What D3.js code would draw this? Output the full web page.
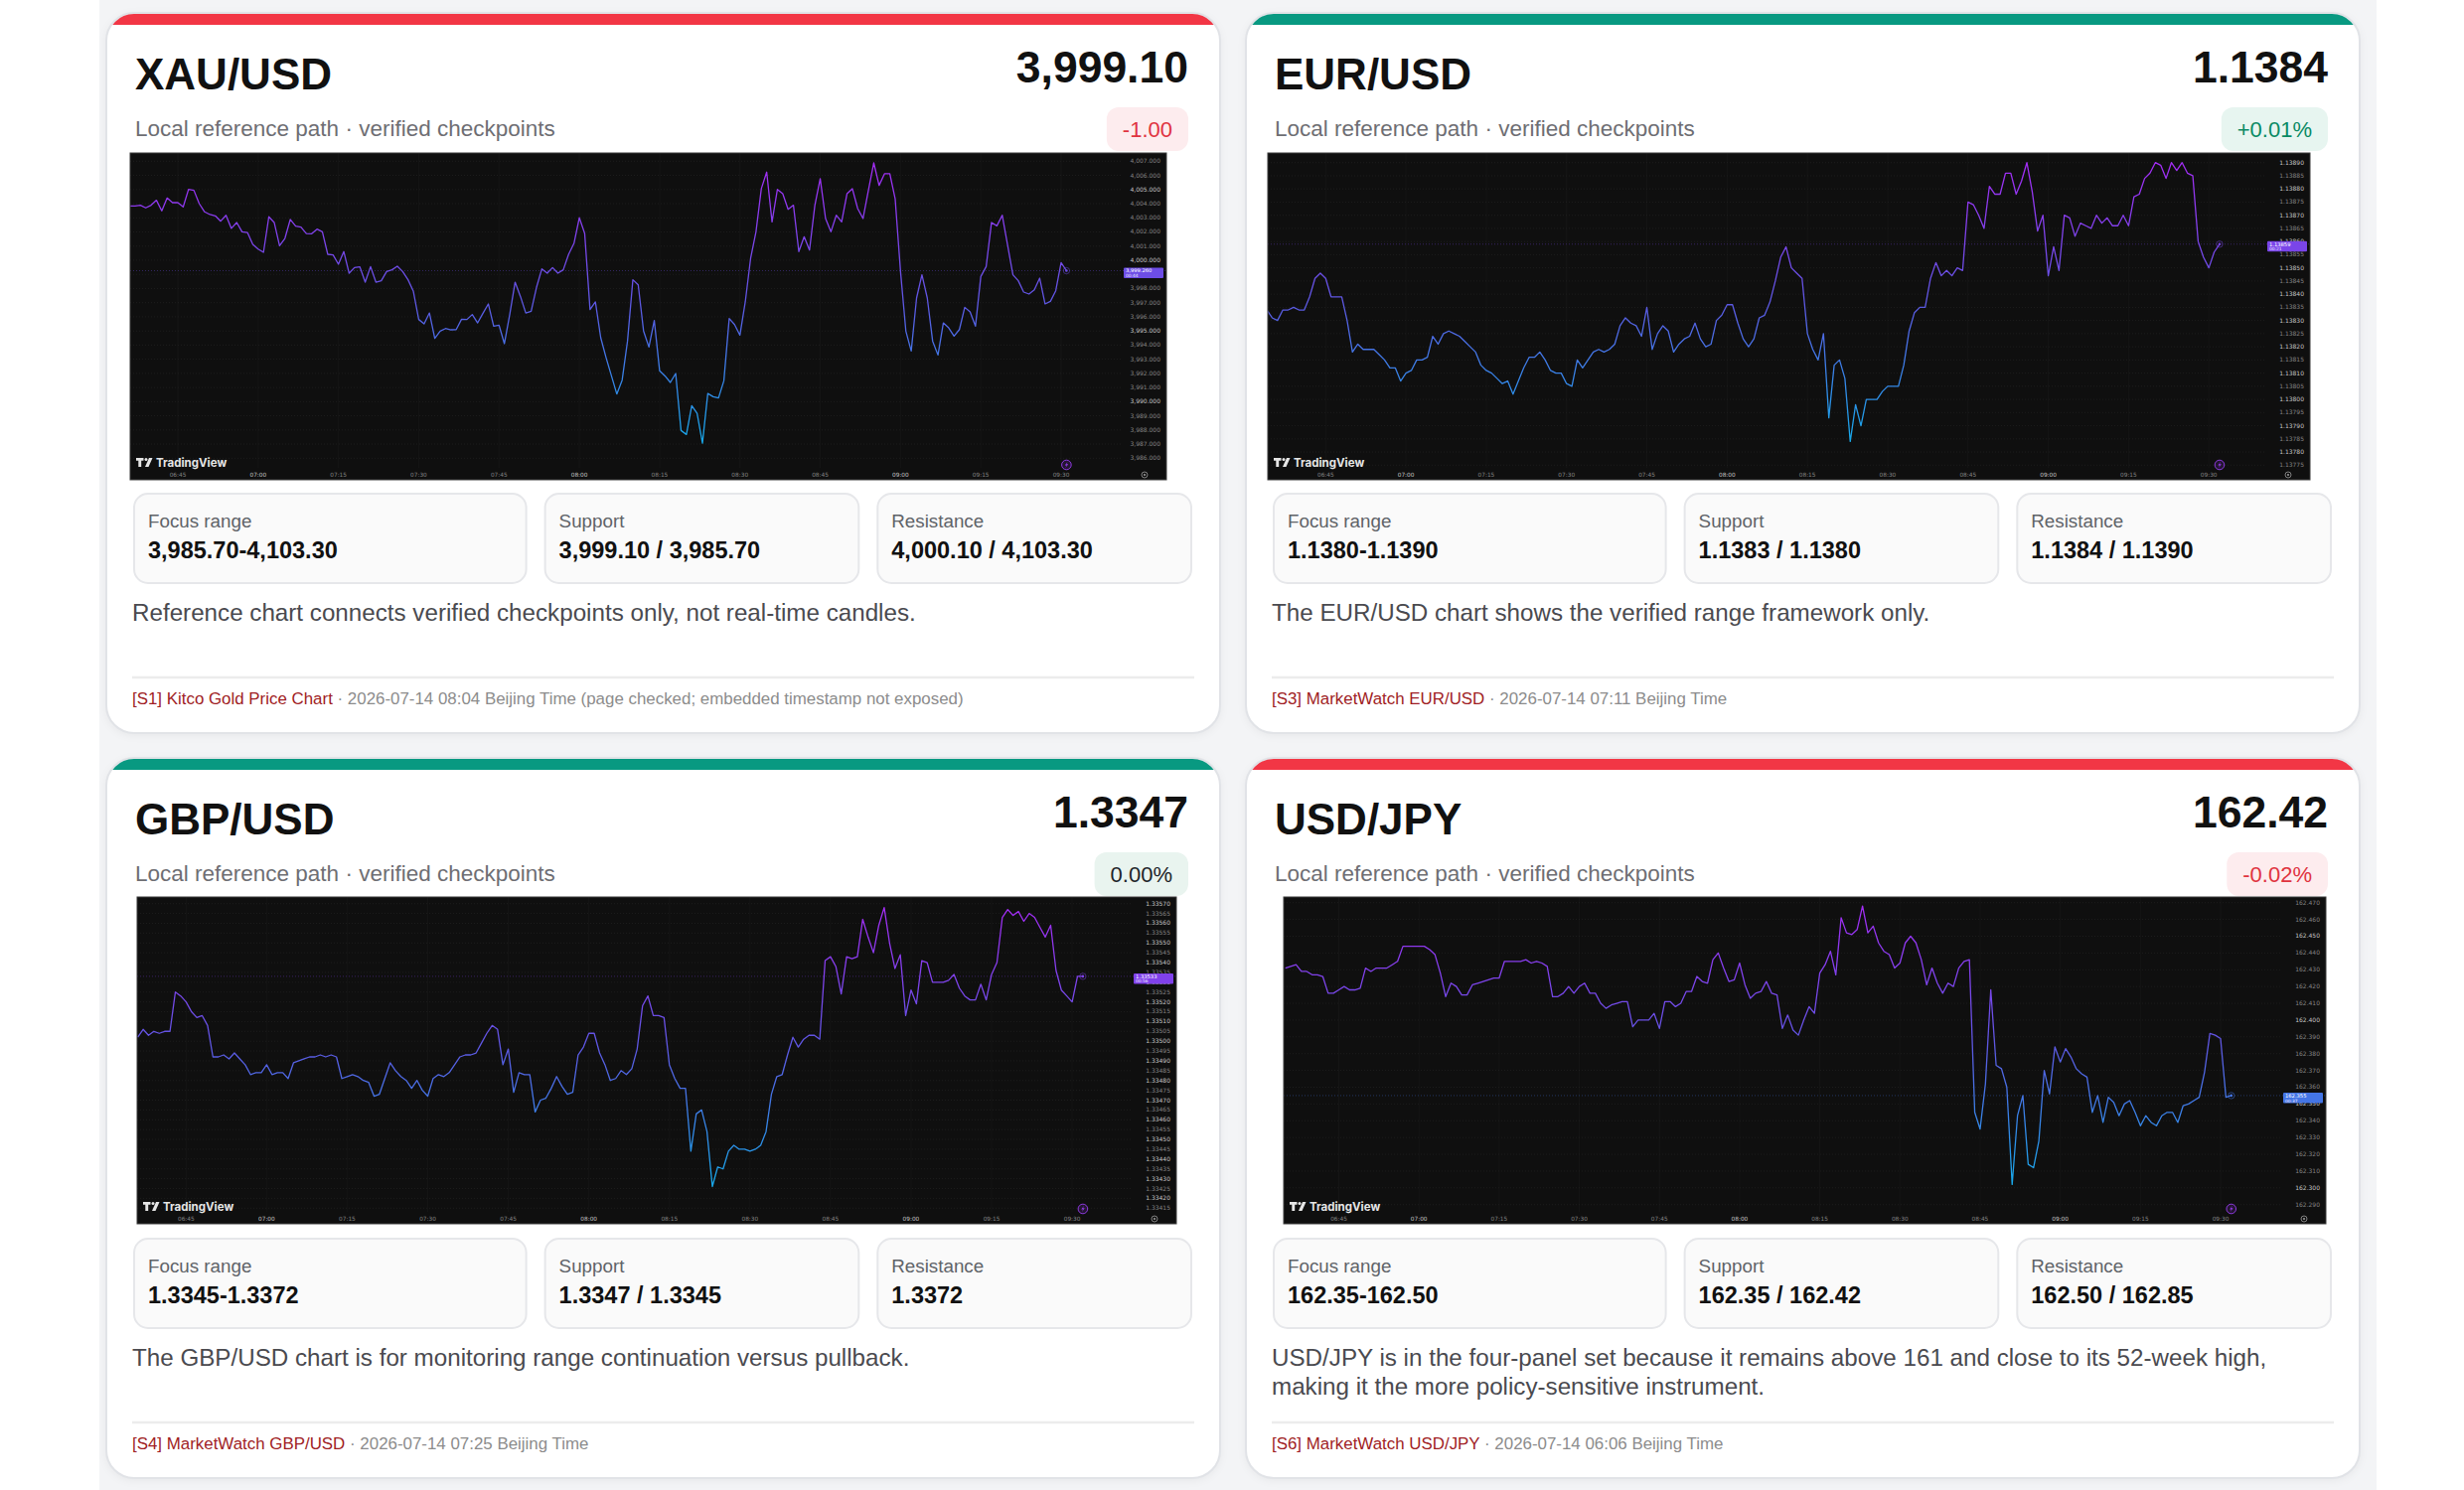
<!DOCTYPE html>
<html>
<head>
<meta charset="utf-8">
<script src="https://cdn.jsdelivr.net/npm/d3@7"></script>
<style>
  html, body { margin: 0; padding: 0; background: #fff; }
  svg { display: block; font-family: "Liberation Sans", Arial, Helvetica, sans-serif; }
</style>
</head>
<body>
<svg id="board" width="2480" height="1500"></svg>
<script>
// ---- panel texts ----
var symbols = ["XAU/USD", "EUR/USD", "GBP/USD", "USD/JPY"];
var prices = ["3,999.10", "1.1384", "1.3347", "162.42"];
var changes = ["-1.00", "+0.01%", "0.00%", "-0.02%"];
var changeDir = ["down", "up", "flat", "down"];
var barDir = ["down", "up", "up", "down"];
var subtitle = "Local reference path \u00b7 verified checkpoints";
var cardLabels = ["Focus range", "Support", "Resistance"];
var focusRange = ["3,985.70-4,103.30", "1.1380-1.1390", "1.3345-1.3372", "162.35-162.50"];
var support = ["3,999.10 / 3,985.70", "1.1383 / 1.1380", "1.3347 / 1.3345", "162.35 / 162.42"];
var resistance = ["4,000.10 / 4,103.30", "1.1384 / 1.1390", "1.3372", "162.50 / 162.85"];
var notes = [
  "Reference chart connects verified checkpoints only, not real-time candles.",
  "The EUR/USD chart shows the verified range framework only.",
  "The GBP/USD chart is for monitoring range continuation versus pullback.",
  "USD/JPY is in the four-panel set because it remains above 161 and close to its 52-week high,\nmaking it the more policy-sensitive instrument."
];
var sourceNames = ["[S1] Kitco Gold Price Chart", "[S3] MarketWatch EUR/USD", "[S4] MarketWatch GBP/USD", "[S6] MarketWatch USD/JPY"];
var sourceTimes = [
  "2026-07-14 08:04 Beijing Time (page checked; embedded timestamp not exposed)",
  "2026-07-14 07:11 Beijing Time",
  "2026-07-14 07:25 Beijing Time",
  "2026-07-14 06:06 Beijing Time"
];

// ---- embedded chart data (1-minute line) ----
var timeTicks = ["06:45", "07:00", "07:15", "07:30", "07:45", "08:00", "08:15", "08:30", "08:45", "09:00", "09:15", "09:30"];
var seriesStart = ["06:36", "06:34", "06:36", "06:35"];
var lastLabels = ["3,999.260", "1.13859", "1.33533", "162.355"];
var countdowns = ["00:44", "00:21", "00:56", "00:37"];
// [lowest tick, highest tick, step, format, major step]
var priceTickSpec = [
  [3986, 4007, 1, ",.3f", 5],
  [1.13775, 1.13890, 0.00005, ".5f", 0.0001],
  [1.33415, 1.33570, 0.00005, ".5f", 0.0001],
  [162.29, 162.47, 0.01, ".3f", 0.05]
];

var xauValues = [
  4003.84, 4003.84, 4003.89, 4003.70, 4003.89, 4004.24, 4003.49, 4004.40, 4004.07, 4004.07,
  4003.77, 4005.01, 4004.94, 4004.00, 4003.42, 4003.23, 4003.14, 4002.76, 4003.18, 4002.25,
  4002.67, 4002.01, 4001.96, 4001.12, 4000.79, 4000.56, 4003.07, 4002.67, 4001.03, 4001.54,
  4002.88, 4002.41, 4002.34, 4001.89, 4001.87, 4002.20, 4002.01, 4000.42, 4000.37, 3999.72,
  4000.61, 3999.08, 3999.48, 3999.53, 3998.45, 3999.55, 3998.45, 3998.55, 3999.20, 3999.32,
  3999.58, 3999.20, 3998.62, 3997.80, 3995.81, 3995.50, 3996.27, 3994.47, 3994.99, 3995.17,
  3995.08, 3995.10, 3995.83, 3995.81, 3996.16, 3995.57, 3996.25, 3996.91, 3995.34, 3995.41,
  3994.10, 3996.16, 3998.45, 3997.44, 3996.27, 3996.39, 3998.08, 3999.39, 3999.08, 3999.48,
  3999.08, 3999.32, 4000.42, 4001.19, 4003.00, 4001.89, 3996.51, 3997.05, 3994.52, 3993.11,
  3991.82, 3990.54, 3991.52, 3994.28, 3998.62, 3998.26, 3994.99, 3993.86, 3995.74, 3992.18,
  3991.82, 3991.36, 3991.99, 3987.96, 3987.68, 3989.72, 3989.18, 3987.07, 3990.58, 3990.35,
  3990.26, 3991.47, 3995.88, 3995.45, 3994.70, 3997.05, 4000.14, 4002.01, 4005.06, 4006.23,
  4002.71, 4005.01, 4004.70, 4003.60, 4003.89, 4000.61, 4001.66, 4000.72, 4003.89, 4005.76,
  4002.95, 4002.01, 4003.18, 4002.71, 4004.70, 4005.06, 4003.65, 4002.95, 4004.94, 4006.88,
  4005.29, 4006.11, 4006.11, 4004.35, 3999.20, 3994.99, 3993.58, 3997.33, 3998.97, 3997.33,
  3994.28, 3993.30, 3995.57, 3995.22, 3994.63, 3995.10, 3996.67, 3996.34, 3995.34, 3998.85,
  3999.55, 4002.67, 4002.43, 4003.18, 4001.07, 3998.97, 3998.55, 3997.75, 3997.61, 3997.91,
  3998.73, 3996.91, 3997.09, 3997.84, 3999.83, 3999.26
];
var eurValues = [
  1.13834, 1.13831, 1.13830, 1.13834, 1.13834, 1.13835, 1.13834, 1.13834, 1.13839, 1.13846,
  1.13848, 1.13846, 1.13839, 1.13839, 1.13839, 1.13830, 1.13818, 1.13821, 1.13819, 1.13819,
  1.13819, 1.13817, 1.13815, 1.13812, 1.13812, 1.13807, 1.13810, 1.13811, 1.13815, 1.13815,
  1.13816, 1.13824, 1.13821, 1.13825, 1.13826, 1.13825, 1.13824, 1.13822, 1.13820, 1.13818,
  1.13813, 1.13811, 1.13810, 1.13808, 1.13806, 1.13807, 1.13802, 1.13807, 1.13812, 1.13816,
  1.13816, 1.13818, 1.13815, 1.13811, 1.13810, 1.13810, 1.13806, 1.13805, 1.13815, 1.13812,
  1.13815, 1.13818, 1.13819, 1.13818, 1.13819, 1.13821, 1.13828, 1.13831, 1.13829, 1.13828,
  1.13824, 1.13835, 1.13819, 1.13825, 1.13828, 1.13826, 1.13818, 1.13821, 1.13823, 1.13824,
  1.13829, 1.13823, 1.13820, 1.13821, 1.13830, 1.13832, 1.13836, 1.13836, 1.13829, 1.13823,
  1.13820, 1.13823, 1.13831, 1.13832, 1.13837, 1.13845, 1.13854, 1.13858, 1.13850, 1.13848,
  1.13846, 1.13825, 1.13819, 1.13815, 1.13825, 1.13793, 1.13813, 1.13815, 1.13808, 1.13784,
  1.13798, 1.13790, 1.13800, 1.13800, 1.13800, 1.13803, 1.13805, 1.13805, 1.13805, 1.13813,
  1.13826, 1.13833, 1.13835, 1.13835, 1.13846, 1.13852, 1.13847, 1.13849, 1.13847, 1.13850,
  1.13849, 1.13875, 1.13874, 1.13870, 1.13865, 1.13881, 1.13878, 1.13878, 1.13886, 1.13886,
  1.13878, 1.13883, 1.13890, 1.13879, 1.13864, 1.13870, 1.13847, 1.13858, 1.13849, 1.13870,
  1.13869, 1.13862, 1.13867, 1.13866, 1.13865, 1.13870, 1.13867, 1.13869, 1.13866, 1.13866,
  1.13870, 1.13866, 1.13877, 1.13878, 1.13884, 1.13886, 1.13890, 1.13889, 1.13884, 1.13890,
  1.13887, 1.13890, 1.13886, 1.13885, 1.13860, 1.13854, 1.13850, 1.13856, 1.13859
];
var gbpValues = [
  1.33502, 1.33506, 1.33503, 1.33505, 1.33504, 1.33505, 1.33505, 1.33525, 1.33523, 1.33520,
  1.33515, 1.33512, 1.33513, 1.33508, 1.33492, 1.33492, 1.33493, 1.33491, 1.33494, 1.33491,
  1.33488, 1.33483, 1.33484, 1.33484, 1.33488, 1.33483, 1.33484, 1.33484, 1.33481, 1.33489,
  1.33490, 1.33491, 1.33492, 1.33492, 1.33493, 1.33492, 1.33493, 1.33492, 1.33481, 1.33482,
  1.33483, 1.33482, 1.33480, 1.33479, 1.33472, 1.33473, 1.33481, 1.33489, 1.33485, 1.33482,
  1.33480, 1.33476, 1.33480, 1.33475, 1.33472, 1.33481, 1.33483, 1.33482, 1.33484, 1.33488,
  1.33492, 1.33493, 1.33493, 1.33494, 1.33499, 1.33504, 1.33508, 1.33506, 1.33488, 1.33496,
  1.33474, 1.33484, 1.33483, 1.33483, 1.33464, 1.33470, 1.33471, 1.33476, 1.33482, 1.33477,
  1.33473, 1.33474, 1.33493, 1.33497, 1.33504, 1.33504, 1.33494, 1.33488, 1.33480, 1.33481,
  1.33485, 1.33483, 1.33486, 1.33496, 1.33518, 1.33523, 1.33513, 1.33513, 1.33512, 1.33488,
  1.33481, 1.33476, 1.33476, 1.33444, 1.33463, 1.33465, 1.33454, 1.33426, 1.33436, 1.33435,
  1.33444, 1.33447, 1.33445, 1.33445, 1.33444, 1.33445, 1.33447, 1.33454, 1.33473, 1.33482,
  1.33483, 1.33493, 1.33502, 1.33497, 1.33501, 1.33503, 1.33503, 1.33501, 1.33541, 1.33543,
  1.33538, 1.33524, 1.33543, 1.33542, 1.33543, 1.33562, 1.33553, 1.33545, 1.33559, 1.33568,
  1.33550, 1.33537, 1.33544, 1.33513, 1.33526, 1.33519, 1.33541, 1.33540, 1.33530, 1.33530,
  1.33530, 1.33531, 1.33534, 1.33527, 1.33523, 1.33521, 1.33521, 1.33529, 1.33521, 1.33534,
  1.33540, 1.33563, 1.33567, 1.33564, 1.33566, 1.33561, 1.33565, 1.33563, 1.33558, 1.33553,
  1.33559, 1.33536, 1.33526, 1.33523, 1.33520, 1.33533, 1.33533
];
var jpyValues = [
  162.431, 162.432, 162.433, 162.429, 162.429, 162.427, 162.427, 162.426, 162.416, 162.416,
  162.418, 162.420, 162.418, 162.418, 162.419, 162.431, 162.429, 162.431, 162.431, 162.431,
  162.433, 162.435, 162.444, 162.444, 162.444, 162.444, 162.444, 162.442, 162.439, 162.428,
  162.414, 162.422, 162.420, 162.415, 162.415, 162.421, 162.422, 162.423, 162.424, 162.425,
  162.425, 162.435, 162.435, 162.435, 162.435, 162.436, 162.434, 162.435, 162.434, 162.432,
  162.414, 162.414, 162.416, 162.420, 162.416, 162.420, 162.422, 162.416, 162.416, 162.410,
  162.407, 162.409, 162.410, 162.411, 162.411, 162.396, 162.400, 162.400, 162.400, 162.404,
  162.395, 162.411, 162.411, 162.408, 162.410, 162.417, 162.417, 162.426, 162.423, 162.422,
  162.436, 162.440, 162.431, 162.423, 162.424, 162.434, 162.421, 162.413, 162.416, 162.417,
  162.423, 162.416, 162.415, 162.395, 162.403, 162.394, 162.391, 162.400, 162.408, 162.404,
  162.428, 162.433, 162.441, 162.427, 162.461, 162.452, 162.451, 162.454, 162.468, 162.452,
  162.456, 162.446, 162.441, 162.439, 162.431, 162.434, 162.446, 162.450, 162.446, 162.436,
  162.421, 162.431, 162.422, 162.416, 162.422, 162.420, 162.431, 162.435, 162.436, 162.345,
  162.335, 162.362, 162.418, 162.373, 162.371, 162.360, 162.302, 162.343, 162.355, 162.314,
  162.312, 162.328, 162.370, 162.356, 162.384, 162.375, 162.383, 162.378, 162.371, 162.368,
  162.366, 162.345, 162.355, 162.339, 162.354, 162.351, 162.343, 162.350, 162.352, 162.345,
  162.337, 162.343, 162.339, 162.337, 162.343, 162.345, 162.345, 162.339, 162.349, 162.350,
  162.352, 162.354, 162.369, 162.392, 162.391, 162.389, 162.354, 162.355
];
var seriesValues = [xauValues, eurValues, gbpValues, jpyValues];

// ---- layout ----
var PW = 1121, PH = 725;
var panelX = [107, 1254, 107, 1254];
var panelY = [13, 13, 763, 763];
// chart frame inside each panel, plus where 06:45/09:30 and top/bottom ticks sit
var chartLayout = [
  {x: 24, y: 141, w: 1043, h: 329, t0: 72,   t1: 961,   v0: 149.3, v1: 448.3},
  {x: 22, y: 141, w: 1049, h: 329, t0: 80.3, t1: 969.2, v0: 150.7, v1: 455.3},
  {x: 31, y: 140, w: 1046, h: 329, t0: 80.3, t1: 972.1, v0: 146.7, v1: 453.3},
  {x: 38, y: 140, w: 1049, h: 329, t0: 93.5, t1: 981,   v0: 145.7, v1: 449.7}
];
var gradStops = ["#a32cf4", "#5d57e2", "#17a9ea"];
var barColors = {up: "#089981", down: "#f23645"};
var badgeStyle = {
  up:   {bg: "#e7f5f0", fg: "#0a8a64"},
  down: {bg: "#fdecee", fg: "#e0333f"},
  flat: {bg: "#e9f4ef", fg: "#1d2429"}
};

function toMin(s) { var p = s.split(":"); return +p[0] * 60 + +p[1]; }

var svg = d3.select("#board");
var defs = svg.append("defs");
var sh = defs.append("filter").attr("id", "shadow")
  .attr("x", "-5%").attr("y", "-5%").attr("width", "110%").attr("height", "110%");
sh.append("feDropShadow").attr("dx", 0).attr("dy", 2).attr("stdDeviation", 4)
  .attr("flood-color", "#000").attr("flood-opacity", 0.06);

// page backdrop
svg.append("rect").attr("x", 100).attr("y", 0).attr("width", 2292).attr("height", 1500).attr("fill", "#f3f4f6");

function drawChart(g, i) {
  var L = chartLayout[i];
  var vals = seriesValues[i];
  var t0 = toMin(seriesStart[i]);
  var T = priceTickSpec[i];
  var n = Math.round((T[1] - T[0]) / T[2]);
  var ticks = d3.range(n + 1).map(function(k) { return T[0] + k * T[2]; });
  var x = d3.scaleLinear().domain([toMin("06:45"), toMin("09:30")]).range([L.t0, L.t1]);
  var y = d3.scaleLinear().domain([T[1], T[0]]).range([L.v0, L.v1]);
  var fmt = d3.format(T[3]);
  var isMajor = function(d) { var r = d / T[4]; return Math.abs(r - Math.round(r)) < 1e-6; };

  defs.append("clipPath").attr("id", "cc" + i)
    .append("rect").attr("x", L.x).attr("y", L.y).attr("width", L.w).attr("height", L.h);
  var cg = g.append("g").attr("clip-path", "url(#cc" + i + ")");

  cg.append("rect").attr("x", L.x).attr("y", L.y).attr("width", L.w).attr("height", L.h).attr("fill", "#0f0f0f");

  var plotRight = L.x + L.w - 46;
  //faint grid
  cg.selectAll(".vg").data(timeTicks).enter().append("line")
    .attr("x1", function(d) { return x(toMin(d)); }).attr("x2", function(d) { return x(toMin(d)); })
    .attr("y1", L.y).attr("y2", L.y + L.h - 12)
    .attr("stroke", "#171717").attr("stroke-width", 0.8);
  cg.selectAll(".hg").data(ticks).enter().append("line")
    .attr("x1", L.x).attr("x2", plotRight)
    .attr("y1", function(d) { return y(d); }).attr("y2", function(d) { return y(d); })
    .attr("stroke", "#262626").attr("stroke-width", 0.6).attr("stroke-dasharray", "1,2");

  // price axis
  cg.selectAll(".yl").data(ticks).enter().append("text")
    .attr("x", L.x + L.w - 6).attr("y", function(d) { return y(d) + 2; })
    .attr("text-anchor", "end").attr("font-family", "DejaVu Sans").attr("font-size", 6)
    .attr("fill", function(d) { return isMajor(d) ? "#c4c4c4" : "#848484"; })
    .text(function(d) { return fmt(d); });

  // time axis
  cg.selectAll(".xl").data(timeTicks).enter().append("text")
    .attr("x", function(d) { return x(toMin(d)); }).attr("y", L.y + L.h - 3.5)
    .attr("text-anchor", "middle").attr("font-family", "DejaVu Sans").attr("font-size", 5.8)
    .attr("fill", function(d) { return d.slice(3) === "00" ? "#c4c4c4" : "#848484"; })
    .text(function(d) { return d; });

  // line colour follows the value
  var ext = d3.extent(vals);
  var lineColor = d3.scaleLinear().domain([ext[1], (ext[0] + ext[1]) / 2, ext[0]])
    .range(gradStops).interpolate(d3.interpolateRgb);
  var grad = defs.append("linearGradient").attr("id", "lg" + i)
    .attr("gradientUnits", "userSpaceOnUse")
    .attr("x1", 0).attr("x2", 0).attr("y1", y(ext[1])).attr("y2", y(ext[0]));
  gradStops.forEach(function(c, k) {
    grad.append("stop").attr("offset", k / (gradStops.length - 1)).attr("stop-color", c);
  });

  var last = vals[vals.length - 1];
  var lastT = t0 + vals.length - 1;
  var lc = lineColor(last);

  cg.append("line").attr("x1", L.x).attr("x2", L.x + L.w)
    .attr("y1", y(last)).attr("y2", y(last))
    .attr("stroke", lc).attr("stroke-opacity", 0.55).attr("stroke-width", 0.7).attr("stroke-dasharray", "1,2");

  cg.append("path").datum(vals)
    .attr("d", d3.line().x(function(d, k) { return x(t0 + k); }).y(function(d) { return y(d); }))
    .attr("fill", "none").attr("stroke", "url(#lg" + i + ")")
    .attr("stroke-width", 1.3).attr("stroke-linejoin", "round");

  cg.append("circle").attr("cx", x(lastT)).attr("cy", y(last)).attr("r", 3.2)
    .attr("fill", "none").attr("stroke", lc).attr("stroke-opacity", 0.6).attr("stroke-width", 0.8);
  cg.append("circle").attr("cx", x(lastT)).attr("cy", y(last)).attr("r", 1.3).attr("fill", lc);

  // last price tag
  var bw = 40, bh = 10.5, bx = L.x + L.w - 3 - bw;
  cg.append("rect").attr("x", bx).attr("y", y(last) - 3).attr("width", bw).attr("height", bh)
    .attr("rx", 1).attr("fill", lc);
  cg.append("text").attr("x", bx + 2).attr("y", y(last) + 1.9)
    .attr("font-family", "DejaVu Sans").attr("font-size", 5.2).attr("fill", "#fff").text(lastLabels[i]);
  cg.append("text").attr("x", bx + 2).attr("y", y(last) + 6.6)
    .attr("font-family", "DejaVu Sans").attr("font-size", 4.4).attr("fill", "#ece6ff").text(countdowns[i]);

  // lightning marker
  var ix = x(lastT), iy = L.y + L.h - 15;
  cg.append("circle").attr("cx", ix).attr("cy", iy).attr("r", 4.8)
    .attr("fill", "rgba(154,61,242,0.15)").attr("stroke", "#9a3df2").attr("stroke-width", 0.9);
  cg.append("path").attr("transform", "translate(" + ix + "," + iy + ")")
    .attr("d", "M1.2,-3.2L-1.6,0.4L0.2,0.4L-1.1,3.2L1.8,-0.8L0,-0.8Z").attr("fill", "#9a3df2");

  // settings marker
  var gx = L.x + L.w - 22, gy = L.y + L.h - 5;
  cg.append("circle").attr("cx", gx).attr("cy", gy).attr("r", 3).attr("fill", "none").attr("stroke", "#9a9a9a").attr("stroke-width", 0.8);
  cg.append("circle").attr("cx", gx).attr("cy", gy).attr("r", 1.1).attr("fill", "#9a9a9a");

  // watermark
  var wm = cg.append("g").attr("transform", "translate(" + (L.x + 6) + "," + (L.y + L.h - 22) + ")").attr("fill", "#e6e6e6");
  wm.append("path").attr("d", "M0,0H7.5V2.8H5.2V9H2.3V2.8H0Z");
  wm.append("circle").attr("cx", 10).attr("cy", 1.6).attr("r", 1.5);
  wm.append("path").attr("d", "M13,0H16.5L12.5,9H9Z");
  wm.append("text").attr("x", 20).attr("y", 8.8).attr("font-family", "Inter, 'DejaVu Sans', sans-serif")
    .attr("font-weight", 700).attr("font-size", 11.5).text("TradingView");

  g.append("rect").attr("x", L.x).attr("y", L.y).attr("width", L.w).attr("height", L.h)
    .attr("fill", "none").attr("stroke", "#3b3b3b").attr("stroke-width", 1);
}

symbols.forEach(function(sym, i) {
  var g = svg.append("g").attr("transform", "translate(" + panelX[i] + "," + panelY[i] + ")");
  defs.append("clipPath").attr("id", "pc" + i)
    .append("rect").attr("width", PW).attr("height", PH).attr("rx", 28);

  g.append("rect").attr("width", PW).attr("height", PH).attr("rx", 28)
    .attr("fill", "#fff").attr("filter", "url(#shadow)");
  g.append("rect").attr("x", 0).attr("y", 0).attr("width", PW).attr("height", 12)
    .attr("fill", barColors[barDir[i]]).attr("clip-path", "url(#pc" + i + ")");
  g.append("rect").attr("width", PW).attr("height", PH).attr("rx", 28)
    .attr("fill", "none").attr("stroke", "#e1e3e7").attr("stroke-width", 2);

  // header
  g.append("text").attr("x", 29).attr("y", 77).attr("font-size", 44).attr("font-weight", 700)
    .attr("fill", "#111").text(sym);
  g.append("text").attr("x", 1089).attr("y", 70).attr("text-anchor", "end")
    .attr("font-size", 44.5).attr("font-weight", 700).attr("fill", "#111").text(prices[i]);
  g.append("text").attr("x", 29).attr("y", 124).attr("font-size", 22.5).attr("fill", "#6e6e73").text(subtitle);

  var bs = badgeStyle[changeDir[i]];
  var badge = g.append("g");
  var bt = badge.append("text").attr("x", 1089 - 16).attr("y", 124.5).attr("text-anchor", "end")
    .attr("font-size", 22).attr("fill", bs.fg).text(changes[i]);
  var tw = bt.node().getComputedTextLength();
  badge.insert("rect", "text").attr("x", 1089 - tw - 32).attr("y", 95).attr("width", tw + 32).attr("height", 44)
    .attr("rx", 12).attr("fill", bs.bg);

  drawChart(g, i);

  // stat cards
  var gap = 19, inner = 1064, unit = (inner - 2 * gap) / 3.25;
  var widths = [1.25 * unit, unit, unit];
  var values = [focusRange[i], support[i], resistance[i]];
  var cx = 28;
  widths.forEach(function(w, k) {
    g.append("rect").attr("x", cx).attr("y", 484).attr("width", w).attr("height", 90).attr("rx", 14)
      .attr("fill", "#fafafa").attr("stroke", "#e6e7ea").attr("stroke-width", 2);
    g.append("text").attr("x", cx + 14).attr("y", 518).attr("font-size", 18.8).attr("fill", "#5f6368").text(cardLabels[k]);
    g.append("text").attr("x", cx + 14).attr("y", 549).attr("font-size", 23.5).attr("font-weight", 700)
      .attr("fill", "#111").text(values[k]);
    cx += w + gap;
  });

  // note
  notes[i].split("\n").forEach(function(line, k) {
    g.append("text").attr("x", 26).attr("y", 612 + k * 29).attr("font-size", 24.2).attr("fill", "#4a4a4f").text(line);
  });

  g.append("line").attr("x1", 26).attr("x2", 1095).attr("y1", 669).attr("y2", 669)
    .attr("stroke", "#ececec").attr("stroke-width", 2.5);

  var ft = g.append("text").attr("x", 26).attr("y", 696).attr("font-size", 16.9);
  ft.append("tspan").attr("fill", "#9f1d24").text(sourceNames[i]);
  ft.append("tspan").attr("fill", "#8c8c8c").text(" \u00b7 " + sourceTimes[i]);
});
</script>
</body>
</html>
